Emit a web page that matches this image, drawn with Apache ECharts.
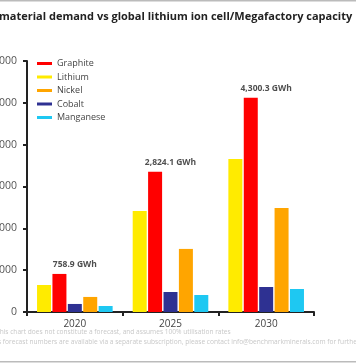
<!DOCTYPE html>
<html><head><meta charset="utf-8">
<script src="https://cdn.jsdelivr.net/npm/echarts@6/dist/echarts.min.js"></script>
<style>html,body{margin:0;padding:0;background:#fff}#c{width:356px;height:364px}</style>
</head><body><div id="c"></div>
<script>
var categories = ['2020', '2025', '2030'];
var capacityLabels = ['758.9 GWh', '2,824.1 GWh', '4,300.3 GWh'];
var lithium = [323000, 1208000, 1830000];
var graphite = [455000, 1675000, 2560000];
var cobalt = [96000, 239000, 299000];
var nickel = [180000, 754000, 1244000];
var manganese = [72000, 203000, 275000];
var legendOrder = ['Graphite', 'Lithium', 'Nickel', 'Cobalt', 'Manganese'];

var font = '"Open Sans", sans-serif';
var colors = {Lithium:'#FFEB00', Graphite:'#FF0000', Cobalt:'#2E3192', Nickel:'#FFA500', Manganese:'#1EC8F2'};
function bar(name, data){
  return {name:name, type:'bar', data:data, barWidth:14, barGap:'10%',
    itemStyle:{color:colors[name]}, emphasis:{disabled:true}};
}
var chart = echarts.init(document.getElementById('c'));
chart.setOption({
  animation:false,
  graphic:[
    {type:'rect', shape:{x:0,y:0,width:356,height:1.5}, style:{fill:'#bbbbbb'}},
    {type:'rect', shape:{x:0,y:361,width:356,height:1.5}, style:{fill:'#bbbbbb'}},
    {type:'text', left:-1, top:11, style:{text:'material demand vs global lithium ion cell/Megafactory capacity', font:'bold 11px '+font, fill:'#222'}},
    {type:'text', left:-4, top:329, style:{text:'This chart does not constitute a forecast, and assumes 100% utilisation rates', font:'6.6px '+font, fill:'#c8c8c8'}},
    {type:'text', left:-2, top:339, style:{text:'s forecast numbers are available via a separate subscription, please contact info@benchmarkminerals.com for further', font:'6.6px '+font, fill:'#c8c8c8'}}
  ],
  legend:{data:legendOrder, orient:'vertical', left:37, top:59, padding:0, itemWidth:15, itemHeight:3, itemGap:4.5, icon:'rect',
    textStyle:{fontFamily:font, fontSize:9, color:'#444'}},
  grid:{left:27, right:42, top:61, bottom:52, containLabel:false, outerBoundsMode:'none'},
  xAxis:{type:'category', data:categories,
    axisLine:{lineStyle:{color:'#222', width:2}},
    axisTick:{show:true, length:4, lineStyle:{color:'#222', width:2}},
    axisLabel:{fontFamily:font, fontSize:10, color:'#444', margin:7}},
  yAxis:{type:'value', min:0, max:3000000, interval:500000,
    splitLine:{show:false},
    axisLine:{show:true, lineStyle:{color:'#222', width:2}},
    axisTick:{show:true, length:4, lineStyle:{color:'#222', width:2}},
    axisLabel:{fontFamily:font, fontSize:10.5, color:'#555', margin:10,
      formatter:function(v){return v.toLocaleString('en-US');}}},
  series:[
    bar('Lithium', lithium), bar('Graphite', graphite), bar('Cobalt', cobalt), bar('Nickel', nickel), bar('Manganese', manganese),
    {name:'capacity', type:'scatter', data:graphite, symbolSize:0, silent:true,
     label:{show:true, position:'top', distance:5, formatter:function(p){return capacityLabels[p.dataIndex];},
       fontFamily:font, fontSize:8.5, fontWeight:'bold', color:'#222'}}
  ]
});
</script></body></html>
